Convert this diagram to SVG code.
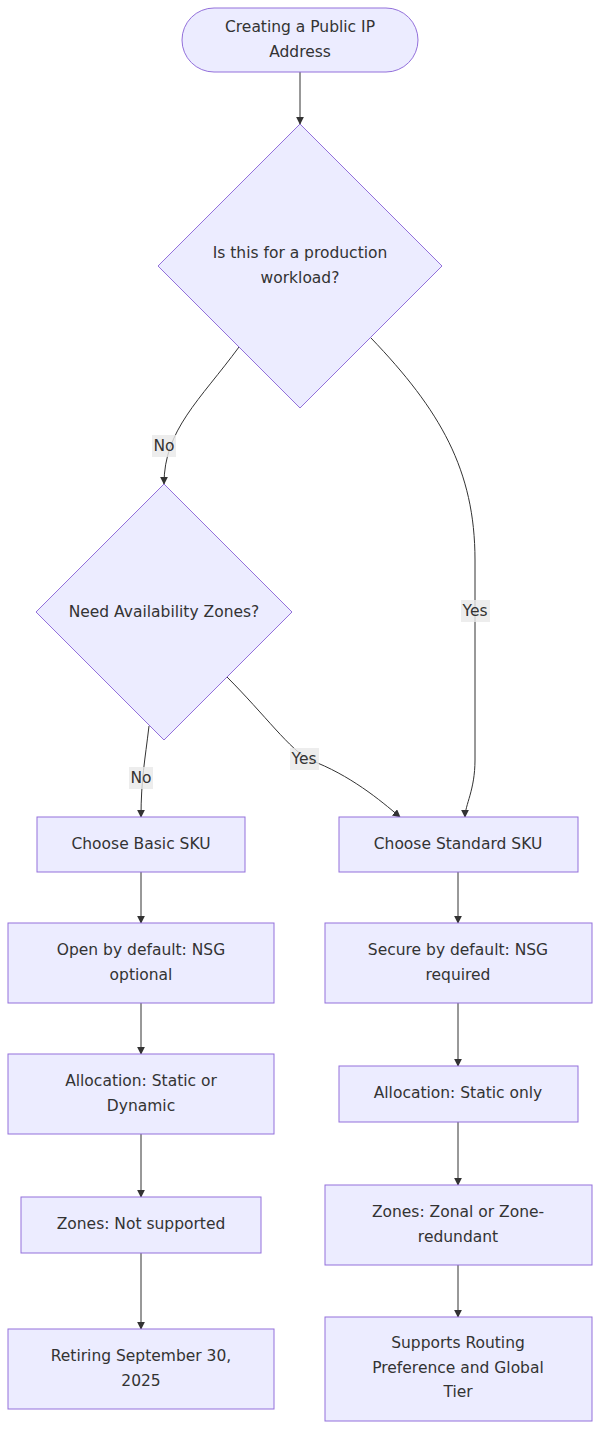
<svg xmlns="http://www.w3.org/2000/svg" width="600" height="1430" viewBox="0 0 600 1430">
<style>
.n{fill:#ECECFF;stroke:#9370DB;stroke-width:1}
text{font-family:"DejaVu Sans",sans-serif;font-size:15.5px;fill:#333;text-anchor:middle;dominant-baseline:central}
.e{fill:none;stroke:#333;stroke-width:1;marker-end:url(#a)}
.lb{fill:rgba(232,232,232,0.8)}
</style>
<defs><marker id="a" viewBox="0 0 10 10" refX="9" refY="5" markerWidth="8" markerHeight="8" orient="auto"><path d="M0,0L10,5L0,10z" fill="#333"/></marker></defs>
<rect width="600" height="1430" fill="#fff"/>
<g id="connectors">
<path class="e" d="M300,72V124"/>
<path class="e" d="M239,347C200,400 164,430 164,484"/>
<path class="e" d="M371,338C440,410 475,470 475,560L475,760C475,790 465,805 465,817"/>
<path class="e" d="M149,726C145,760 141,780 141,817"/>
<path class="e" d="M227,677C265,715 290,750 310,760C350,775 380,800 400,817"/>
<path class="e" d="M141,872V923"/><path class="e" d="M141,1003V1054"/><path class="e" d="M141,1134V1197"/><path class="e" d="M141,1253V1329"/>
<path class="e" d="M458,872V923"/><path class="e" d="M458,1003V1066"/><path class="e" d="M458,1122V1185"/><path class="e" d="M458,1265V1317"/>
<rect class="lb" x="152" y="435" width="24" height="22"/><text x="164" y="446">No</text>
<rect class="lb" x="461" y="600" width="29" height="22"/><text x="475" y="611">Yes</text>
<rect class="lb" x="129" y="767" width="24" height="22"/><text x="141" y="778">No</text>
<rect class="lb" x="290" y="748" width="29" height="22"/><text x="304" y="759">Yes</text>
</g>
<g id="start"><rect class="n" x="182" y="8" width="236" height="64" rx="32"/><text x="300" y="27">Creating a Public IP</text><text x="300" y="52">Address</text></g>
<g id="d1"><path class="n" d="M300,124L442,266L300,408L158,266z"/><text x="300" y="253">Is this for a production</text><text x="300" y="278">workload?</text></g>
<g id="d2"><path class="n" d="M164,484L292,612L164,740L36,612z"/><text x="164" y="612">Need Availability Zones?</text></g>
<g id="basic"><rect class="n" x="37" y="817" width="208" height="55"/><text x="141" y="844">Choose Basic SKU</text></g>
<g id="std"><rect class="n" x="339" y="817" width="239" height="55"/><text x="458" y="844">Choose Standard SKU</text></g>
<g id="open"><rect class="n" x="8" y="923" width="266" height="80"/><text x="141" y="950">Open by default: NSG</text><text x="141" y="975">optional</text></g>
<g id="secure"><rect class="n" x="325" y="923" width="267" height="80"/><text x="458" y="950">Secure by default: NSG</text><text x="458" y="975">required</text></g>
<g id="allocB"><rect class="n" x="8" y="1054" width="266" height="80"/><text x="141" y="1081">Allocation: Static or</text><text x="141" y="1106">Dynamic</text></g>
<g id="allocS"><rect class="n" x="339" y="1066" width="239" height="56"/><text x="458" y="1093">Allocation: Static only</text></g>
<g id="zonesB"><rect class="n" x="21" y="1197" width="240" height="56"/><text x="141" y="1224">Zones: Not supported</text></g>
<g id="zonesS"><rect class="n" x="325" y="1185" width="267" height="80"/><text x="458" y="1212">Zones: Zonal or Zone-</text><text x="458" y="1237">redundant</text></g>
<g id="retire"><rect class="n" x="8" y="1329" width="266" height="80"/><text x="141" y="1356">Retiring September 30,</text><text x="141" y="1381">2025</text></g>
<g id="routing"><rect class="n" x="325" y="1317" width="267" height="104"/><text x="458" y="1343">Supports Routing</text><text x="458" y="1368">Preference and Global</text><text x="458" y="1392">Tier</text></g>
</svg>
